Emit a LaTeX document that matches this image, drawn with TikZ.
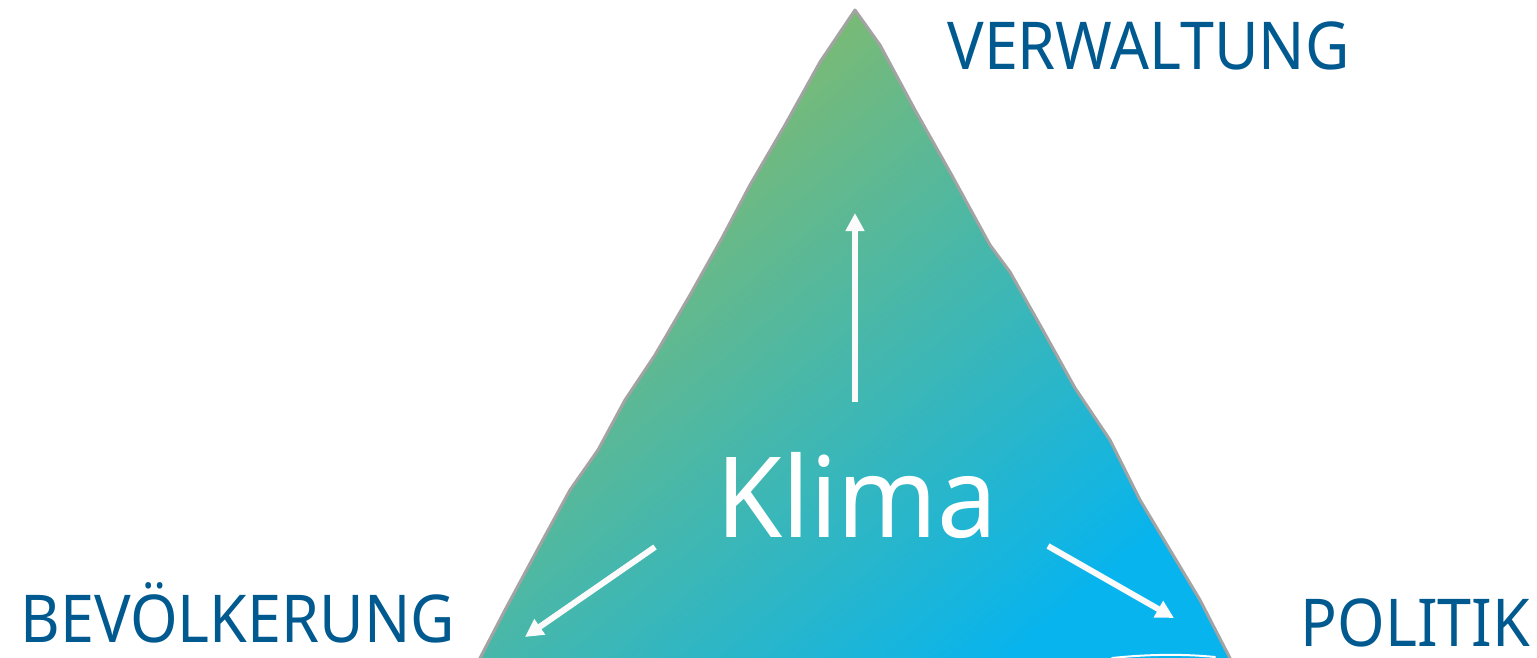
\documentclass[tikz,border=0pt]{standalone}
\usepackage{fontspec}
\setmainfont{Noto Sans}
\newfontfamily\lblfont[FakeStretch=0.925]{Noto Sans}
\newfontfamily\klimafont[FakeStretch=0.955]{Noto Sans}
\usetikzlibrary{arrows.meta,positioning}
\definecolor{tgreen}{HTML}{8CBB62}
\definecolor{tmid}{HTML}{64B7AE}
\definecolor{tblue}{HTML}{07B4EE}
\definecolor{lblblue}{HTML}{00598F}
\definecolor{edgegray}{HTML}{A3A3A3}
\tikzset{
label/.style = {text=lblblue, inner sep=0pt, font=\lblfont\fontsize{33}{33}\selectfont},
center/.style = {text=white, inner sep=0pt, font=\klimafont\fontsize{56}{56}\selectfont},
flow/.style = {draw=white!97!gray, line width=3pt, -{Triangle[length=9pt,width=9pt]}},
tmp/.style = {coordinate}
}
\begin{document}
\begin{tikzpicture}[x=0.5pt,y=-0.5pt]
	\useasboundingbox (0,0) rectangle (1537,658);
	\clip (0,0) rectangle (1537,658);
	% triangle
	\path[shading=axis, top color=tgreen, middle color=tmid, bottom color=tblue, shading angle=40, draw=edgegray, line width=1.5pt, line join=round]
		(855,10) -- (820,62) -- (785,125) -- (750,185) -- (722,238) -- (690,295) -- (655,355) -- (625,400) -- (598,450) -- (570,490) -- (540,545) -- (505,610) -- (478,662)
		-- (1232,662) -- (1200,600) -- (1140,500) -- (1110,440) -- (1075,388) -- (1040,325) -- (1010,272) -- (990,245) -- (950,172) -- (915,110) -- (880,45) -- cycle;
	\draw[white, line width=1pt, line cap=round] (1112,658) .. controls (1150,654) and (1185,654) .. (1215,657);
	% labels
	\node[label, anchor=base west] (verw) at (947,70) {VERWALTUNG};
	\node[label, anchor=base west] (bev) at (20,642) {BEVÖLKERUNG};
	\node[label, anchor=base west] (pol) at (1300,646) {POLITIK};
	\node[center, anchor=base west] (klima) at (716,537) {Klima};
	% arrows
	\node[tmp] (up0) at (855,402) {};
	\node[tmp] (up1) at (855,213) {};
	\node[tmp] (left0) at (655,547) {};
	\node[tmp] (left1) at (525,637) {};
	\node[tmp] (right0) at (1048,546) {};
	\node[tmp] (right1) at (1174,618) {};
	\draw[flow] (up0) -- (up1);
	\draw[flow] (left0) -- (left1);
	\draw[flow] (right0) -- (right1);
\end{tikzpicture}
\end{document}
